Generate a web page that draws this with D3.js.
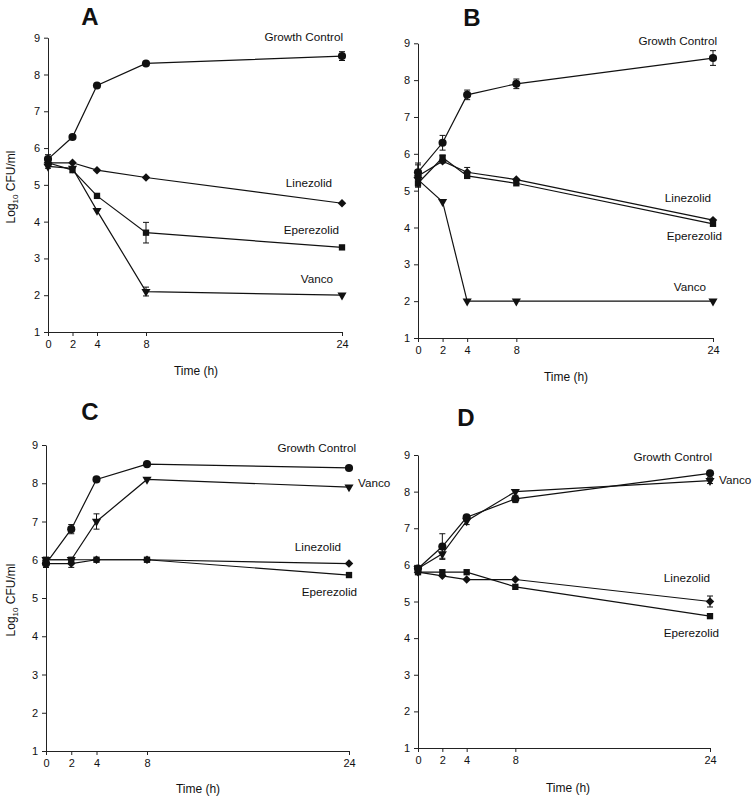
<!DOCTYPE html>
<html><head><meta charset="utf-8">
<script src="https://cdn.jsdelivr.net/npm/d3@7"></script>
<style>body{margin:0;background:#fff}svg{font-family:"Liberation Sans",Arial,sans-serif}</style>
</head><body><svg id="c" width="755" height="799"></svg>
<script>
const times = [0, 2, 4, 8, 24];
const yTicks = [1, 2, 3, 4, 5, 6, 7, 8, 9];
const seriesNames = ["Growth Control", "Linezolid", "Eperezolid", "Vanco"];
const seriesShapes = ["circle", "diamond", "square", "triangle"];

// Panel A
const A_growth = [5.7, 6.3, 7.7, 8.3, 8.5];
const A_growthErr = [0.12, 0, 0, 0, 0.12];
const A_linezolid = [5.6, 5.6, 5.4, 5.2, 4.5];
const A_linezolidErr = [0, 0, 0, 0, 0];
const A_eperezolid = [5.6, 5.4, 4.7, 3.7, 3.3];
const A_eperezolidErr = [0, 0, 0, 0.28, 0];
const A_vanco = [5.5, 5.45, 4.3, 2.1, 2.0];
const A_vancoErr = [0.05, 0, 0, 0.12, 0];

// Panel B
const B_growth = [5.5, 6.3, 7.6, 7.9, 8.6];
const B_growthErr = [0.25, 0.2, 0.13, 0.13, 0.2];
const B_linezolid = [5.4, 5.8, 5.5, 5.3, 4.2];
const B_linezolidErr = [0.3, 0.05, 0.13, 0, 0];
const B_eperezolid = [5.2, 5.9, 5.4, 5.2, 4.1];
const B_eperezolidErr = [0.1, 0.05, 0, 0, 0];
const B_vanco = [5.3, 4.7, 2.0, 2.0, 2.0];
const B_vancoErr = [0, 0, 0, 0, 0];

// Panel C
const C_growth = [5.9, 6.8, 8.1, 8.5, 8.4];
const C_growthErr = [0.1, 0.12, 0, 0, 0];
const C_linezolid = [5.9, 5.9, 6.0, 6.0, 5.9];
const C_linezolidErr = [0.1, 0.1, 0, 0, 0];
const C_eperezolid = [6.0, 6.0, 6.0, 6.0, 5.6];
const C_eperezolidErr = [0, 0, 0, 0, 0];
const C_vanco = [6.0, 6.0, 7.0, 8.1, 7.9];
const C_vancoErr = [0, 0, 0.2, 0, 0];

// Panel D
const D_growth = [5.9, 6.5, 7.3, 7.8, 8.5];
const D_growthErr = [0.05, 0.35, 0, 0.1, 0];
const D_linezolid = [5.8, 5.7, 5.6, 5.6, 5.0];
const D_linezolidErr = [0, 0, 0, 0, 0.15];
const D_eperezolid = [5.8, 5.8, 5.8, 5.4, 4.6];
const D_eperezolidErr = [0, 0, 0, 0, 0];
const D_vanco = [5.9, 6.3, 7.2, 8.0, 8.3];
const D_vancoErr = [0, 0.12, 0.1, 0, 0.08];

const panels = [
  {id:"A", series:[[A_growth,A_growthErr],[A_linezolid,A_linezolidErr],[A_eperezolid,A_eperezolidErr],[A_vanco,A_vancoErr]],
   box:{l:48,r:342,t:37.7,b:332}, title:[90,25], xlab:[196,375], ylab:[15,187],
   labels:[[343,41,"end"],[332,187,"end"],[339,234,"end"],[333,283,"end"]]},
  {id:"B", series:[[B_growth,B_growthErr],[B_linezolid,B_linezolidErr],[B_eperezolid,B_eperezolidErr],[B_vanco,B_vancoErr]],
   box:{l:418,r:713,t:43.3,b:338}, title:[472,26], xlab:[566,381], ylab:null,
   labels:[[717,45,"end"],[711,202,"end"],[722,240,"end"],[706,291,"end"]]},
  {id:"C", series:[[C_growth,C_growthErr],[C_linezolid,C_linezolidErr],[C_eperezolid,C_eperezolidErr],[C_vanco,C_vancoErr]],
   box:{l:46,r:349,t:445,b:751}, title:[90,420], xlab:[198,793], ylab:[15,600],
   labels:[[356,452,"end"],[341,551,"end"],[357,596,"end"],[358,487,"start"]]},
  {id:"D", series:[[D_growth,D_growthErr],[D_linezolid,D_linezolidErr],[D_eperezolid,D_eperezolidErr],[D_vanco,D_vancoErr]],
   box:{l:418,r:710,t:455,b:748}, title:[466,426], xlab:[568,792], ylab:null,
   labels:[[712,461,"end"],[710,582,"end"],[719,637,"end"],[719,484,"start"]]}
];

const svg = d3.select("#c");
const symType = {circle:d3.symbolCircle, diamond:d3.symbolSquare, square:d3.symbolSquare, triangle:d3.symbolTriangle};
const symSize = {circle:52, diamond:36, square:40, triangle:36};
const symRot = {circle:0, diamond:45, square:0, triangle:180};

panels.forEach(p => {
  const x = d3.scaleLinear().domain([0,24]).range([p.box.l,p.box.r]);
  const y = d3.scaleLinear().domain([1,9]).range([p.box.b,p.box.t]);
  const g = svg.append("g");
  const yAx = g.append("g").attr("transform",`translate(${p.box.l},0)`)
    .call(d3.axisLeft(y).tickValues(yTicks).tickFormat(d3.format("d")).tickSize(4).tickSizeOuter(0));
  const xAx = g.append("g").attr("transform",`translate(0,${p.box.b})`)
    .call(d3.axisBottom(x).tickValues(times).tickFormat(d3.format("d")).tickSize(4).tickSizeOuter(0));
  [yAx,xAx].forEach(a=>{
    a.selectAll("path,line").attr("stroke","#222").attr("stroke-width",1);
    a.selectAll("text").attr("font-size",11).attr("fill","#111").attr("font-family","'Liberation Sans',Arial,sans-serif");
  });
  yAx.selectAll("text").attr("x",-8);
  xAx.selectAll("text").attr("y",8);

  const line = d3.line().x((d,i)=>x(times[i])).y(d=>y(d));
  p.series.forEach(([vals,errs],si)=>{
    g.append("path").datum(vals).attr("d",line).attr("fill","none").attr("stroke","#111").attr("stroke-width",1.2);
    vals.forEach((v,i)=>{
      const e = errs[i]; if(!e) return;
      const cx = x(times[i]);
      g.append("line").attr("x1",cx).attr("x2",cx).attr("y1",y(v-e)).attr("y2",y(v+e)).attr("stroke","#111").attr("stroke-width",1);
      [v-e,v+e].forEach(w=>g.append("line").attr("x1",cx-3).attr("x2",cx+3).attr("y1",y(w)).attr("y2",y(w)).attr("stroke","#111").attr("stroke-width",1));
    });
    const shp = seriesShapes[si];
    g.selectAll(null).data(vals).enter().append("path")
      .attr("d", d3.symbol().type(symType[shp]).size(symSize[shp]))
      .attr("transform",(d,i)=>`translate(${x(times[i])},${y(d)}) rotate(${symRot[shp]})`)
      .attr("fill","#111");
    const lb = p.labels[si];
    g.append("text").attr("x",lb[0]).attr("y",lb[1]).attr("text-anchor",lb[2])
      .attr("font-size",11.7).attr("fill","#111").text(seriesNames[si]);
  });

  g.append("text").attr("x",p.title[0]).attr("y",p.title[1]).attr("text-anchor","middle")
    .attr("font-size",24).attr("font-weight","bold").attr("fill","#111").text(p.id);
  g.append("text").attr("x",p.xlab[0]).attr("y",p.xlab[1]).attr("text-anchor","middle")
    .attr("font-size",12).attr("fill","#111").text("Time (h)");
  if(p.ylab){
    const t = g.append("text").attr("transform",`translate(${p.ylab[0]},${p.ylab[1]}) rotate(-90)`)
      .attr("text-anchor","middle").attr("font-size",12).attr("fill","#111");
    t.append("tspan").text("Log");
    t.append("tspan").attr("font-size",8).attr("dy",3).text("10");
    t.append("tspan").attr("dy",-3).text(" CFU/ml");
  }
});
</script></body></html>
